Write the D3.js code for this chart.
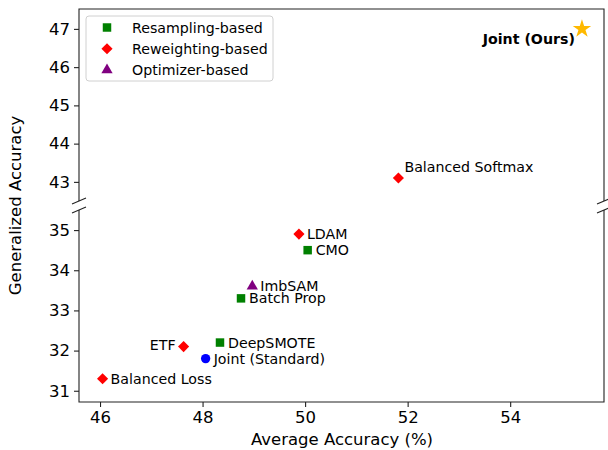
<!DOCTYPE html>
<html><head><meta charset="utf-8">
<script src="https://cdn.jsdelivr.net/npm/d3@7"></script>
<style>
html,body{margin:0;padding:0;background:#fff;}
svg{display:block;font-family:"DejaVu Sans",sans-serif;}
</style></head>
<body>
<svg id="chart" width="608" height="450"></svg>
<script>
// ---- data ----
const methods = ["Joint (Ours)","Balanced Softmax","LDAM","CMO","ImbSAM","Batch Prop","DeepSMOTE","Joint (Standard)","ETF","Balanced Loss"];
const avgAcc  = [55.4, 51.82, 49.88, 50.05, 48.97, 48.75, 48.34, 48.06, 47.63, 46.05];
const genAcc  = [47.0, 43.1, 34.9, 34.5, 33.6, 33.3, 32.2, 31.8, 32.1, 31.3];
const groups  = ["ours","reweight","reweight","resample","optimizer","resample","resample","standard","reweight","reweight"];
const labelSide = ["ours","above","right","right","right","right","right","right","left","right"];
const xTicks = [46,48,50,52,54];
const yTicksTop = [43,44,45,46,47];
const yTicksBottom = [31,32,33,34,35];
const legendLabels = ["Resampling-based","Reweighting-based","Optimizer-based"];
const legendGroups = ["resample","reweight","optimizer"];

// ---- styles ----
const colors = {resample:"#008000", reweight:"#ff0000", optimizer:"#800080", standard:"#0000ff", ours:"#ffb900"};
const symbols = {resample:d3.symbolSquare, reweight:d3.symbolSquare, optimizer:d3.symbolTriangle, standard:d3.symbolCircle, ours:d3.symbolStar};
const rotations = {resample:0, reweight:45, optimizer:0, standard:0, ours:0};
const sizes = {resample:72, reweight:62, optimizer:55, standard:68, ours:105};

const svg = d3.select("#chart");
const L = 79, R = 604, topT = 9, topB = 201, botT = 210, botB = 402;

const x = d3.scaleLinear().domain([45.59, 55.83]).range([L, R]);
const yTop = d3.scaleLinear().domain([42.5, 47.52]).range([topB, topT]);
const yBot = d3.scaleLinear().domain([30.72, 35.5]).range([botB, botT]);
const yOf = v => v >= 40 ? yTop(v) : yBot(v);

const spine = "#222";
const g = svg.append("g");
g.append("path").attr("d",`M${L},${topB}V${topT}H${R}V${topB}`).attr("fill","none").attr("stroke",spine).attr("stroke-width",1.1);
g.append("path").attr("d",`M${L},${botT}V${botB}H${R}V${botT}`).attr("fill","none").attr("stroke",spine).attr("stroke-width",1.1);
[L,R].forEach(px=>{
  [topB,botT].forEach(py=>{
    g.append("line").attr("x1",px-7).attr("y1",py+3).attr("x2",px+7).attr("y2",py-3)
      .attr("stroke",spine).attr("stroke-width",1.1);
  });
});

function styleAxis(sel){
  sel.select(".domain").remove();
  sel.selectAll(".tick line").attr("stroke",spine).attr("stroke-width",1.1);
  sel.selectAll(".tick text").attr("fill","#000").style("font-size","16.5px").style("font-family","DejaVu Sans");
}
svg.append("g").attr("transform",`translate(${L},0)`)
  .call(d3.axisLeft(yTop).tickValues(yTicksTop).tickFormat(d3.format("d")).tickSize(5).tickPadding(4)).call(styleAxis);
svg.append("g").attr("transform",`translate(${L},0)`)
  .call(d3.axisLeft(yBot).tickValues(yTicksBottom).tickFormat(d3.format("d")).tickSize(5).tickPadding(4)).call(styleAxis);
svg.append("g").attr("transform",`translate(0,${botB})`)
  .call(d3.axisBottom(x).tickValues(xTicks).tickFormat(d3.format("d")).tickSize(5).tickPadding(4)).call(styleAxis);

svg.append("text").attr("x",342).attr("y",445).attr("text-anchor","middle")
  .style("font-size","16.5px").text("Average Accuracy (%)");
svg.append("text").attr("transform",`translate(21,${(topT+botB)/2}) rotate(-90)`).attr("text-anchor","middle")
  .style("font-size","16.5px").text("Generalized Accuracy");

const data = methods.map((m,i)=>({name:m, x:avgAcc[i], y:genAcc[i], g:groups[i], side:labelSide[i]}));
svg.append("g").selectAll("path").data(data).join("path")
  .attr("transform",d=>`translate(${x(d.x)},${yOf(d.y)}) rotate(${rotations[d.g]})`)
  .attr("d",d=>d3.symbol().type(symbols[d.g]).size(sizes[d.g])())
  .attr("fill",d=>colors[d.g]);

svg.append("g").selectAll("text").data(data).join("text")
  .attr("x",d=> d.side==="left" ? x(d.x)-8 : d.side==="ours" ? x(d.x)-7 : d.side==="above" ? x(d.x)+6 : x(d.x)+8)
  .attr("y",d=> d.side==="above" ? yOf(d.y)-6 : d.side==="ours" ? yOf(d.y)+15 : d.side==="left" ? yOf(d.y)+3 : yOf(d.y)+5)
  .attr("text-anchor",d=> (d.side==="left"||d.side==="ours") ? "end" : "start")
  .style("font-size","14.2px")
  .style("font-weight",d=>d.side==="ours"?"bold":"normal")
  .attr("fill","#000")
  .text(d=>d.name);

const lg = svg.append("g");
lg.append("rect").attr("x",86).attr("y",16).attr("width",187).attr("height",65).attr("rx",3)
  .attr("fill","#fff").attr("fill-opacity",0.8).attr("stroke","#d0d0d0").attr("stroke-width",1);
legendLabels.forEach((lab,i)=>{
  const yy = 27.5 + i*21.3;
  lg.append("path").attr("transform",`translate(107,${yy}) rotate(${rotations[legendGroups[i]]})`)
    .attr("d",d3.symbol().type(symbols[legendGroups[i]]).size(sizes[legendGroups[i]])())
    .attr("fill",colors[legendGroups[i]]);
  lg.append("text").attr("x",132).attr("y",yy+5).style("font-size","14.2px").text(lab);
});
</script>
</body></html>
